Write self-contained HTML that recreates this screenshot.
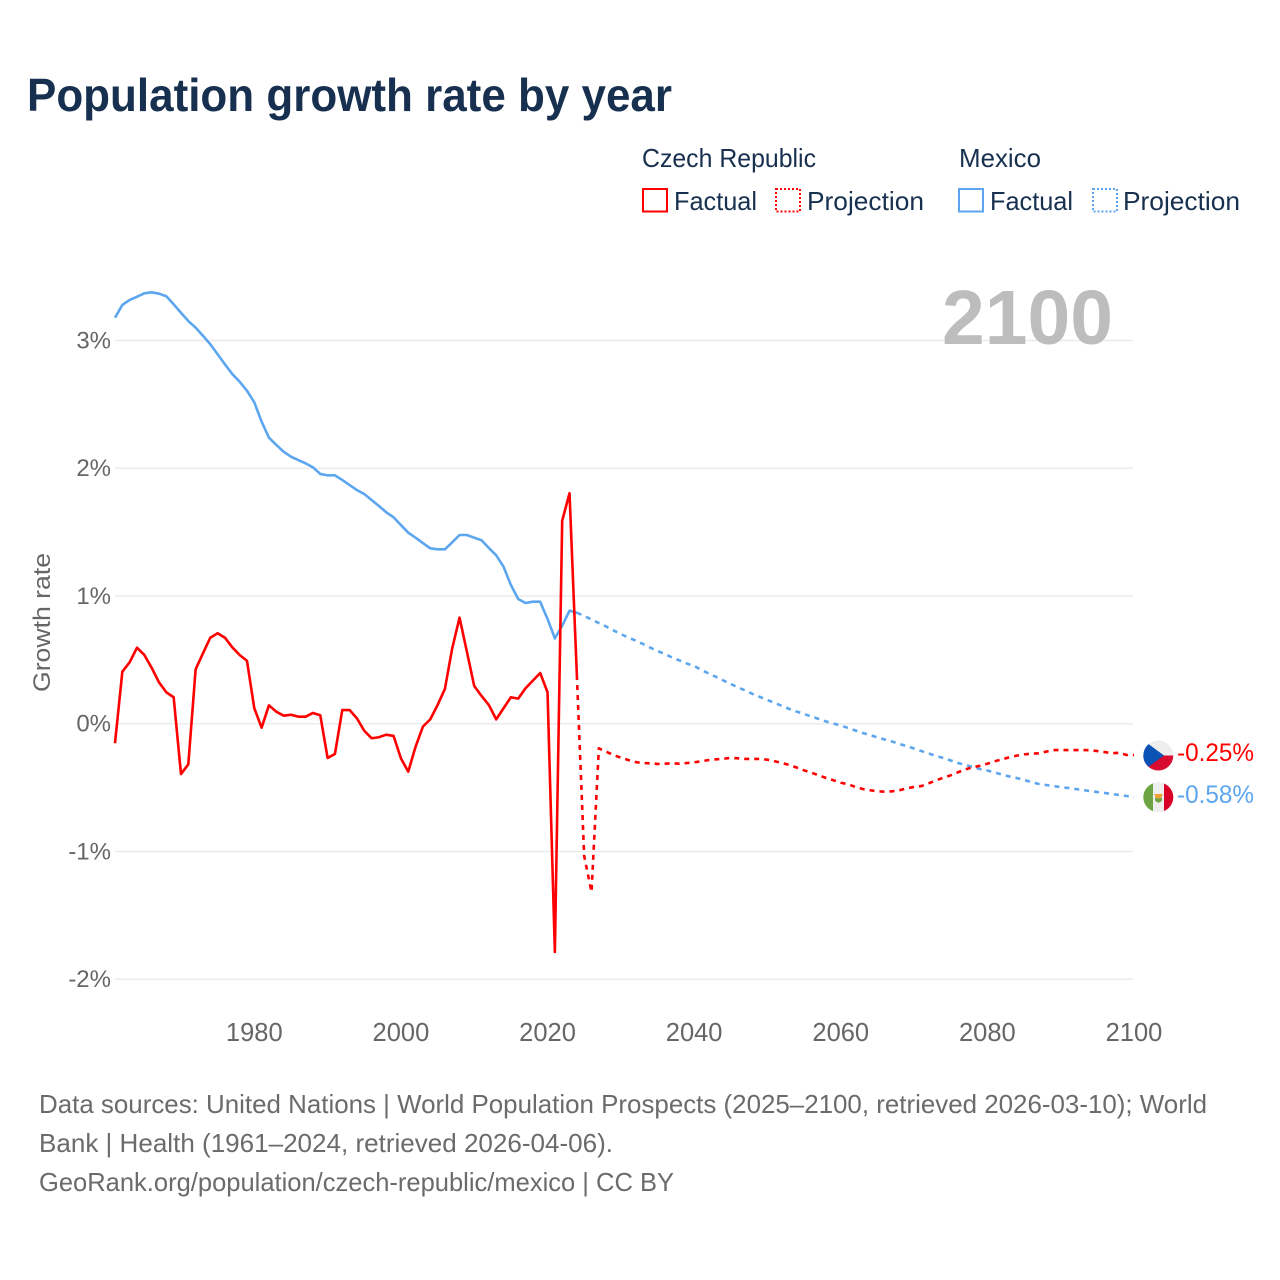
<!DOCTYPE html>
<html lang="en">
<head>
<meta charset="utf-8">
<title>Population growth rate by year</title>
<style>
html,body{margin:0;padding:0;background:#fff;}
svg{display:block;font-family:"Liberation Sans",sans-serif;}
</style>
</head>
<body>
<svg id="chart" xmlns="http://www.w3.org/2000/svg" width="1280" height="1280" viewBox="0 0 1280 1280">
  <defs>
    <clipPath id="cz-clip"><circle cx="1158.3" cy="755.5" r="15"/></clipPath>
    <clipPath id="mx-clip"><circle cx="1158.3" cy="797.3" r="15"/></clipPath>
  </defs>
  <rect width="1280" height="1280" fill="#fff"/>
  <text x="27" y="111" font-size="46" font-weight="700" fill="#18304f" textLength="645" lengthAdjust="spacingAndGlyphs">Population growth rate by year</text>

  <g font-size="26" fill="#18304f">
    <text x="642" y="167" textLength="174" lengthAdjust="spacingAndGlyphs">Czech Republic</text>
    <text x="959" y="167" textLength="82" lengthAdjust="spacingAndGlyphs">Mexico</text>
    <g>
      <rect x="643" y="189" width="24" height="22.5" fill="none" stroke="#ff0000" stroke-width="2"/>
      <text x="674" y="210" textLength="83" lengthAdjust="spacingAndGlyphs">Factual</text>
    </g>
    <g>
      <rect x="776" y="189" width="24" height="22.5" fill="none" stroke="#ff0000" stroke-width="2" stroke-dasharray="2 2"/>
      <text x="807" y="210" textLength="117" lengthAdjust="spacingAndGlyphs">Projection</text>
    </g>
    <g>
      <rect x="959" y="189" width="24" height="22.5" fill="none" stroke="#5ca6ef" stroke-width="2"/>
      <text x="990" y="210" textLength="83" lengthAdjust="spacingAndGlyphs">Factual</text>
    </g>
    <g>
      <rect x="1093" y="189" width="24" height="22.5" fill="none" stroke="#5ca6ef" stroke-width="2" stroke-dasharray="2 2"/>
      <text x="1123" y="210" textLength="117" lengthAdjust="spacingAndGlyphs">Projection</text>
    </g>
  </g>

  <g id="grid"></g>
  <g id="ylabels"></g>
  <g id="xlabels"></g>
  <text transform="translate(50,692) rotate(-90)" font-size="24" fill="#666" textLength="139" lengthAdjust="spacingAndGlyphs">Growth rate</text>
  <text x="942" y="344" font-size="77" font-weight="700" fill="#bdbdbd" textLength="171" lengthAdjust="spacingAndGlyphs">2100</text>
  <g id="series"></g>

  <g clip-path="url(#cz-clip)">
    <rect x="1143" y="740" width="31" height="15.5" fill="#eeeeee"/>
    <rect x="1143" y="755.5" width="31" height="16" fill="#d80b30"/>
    <polygon points="1143,740 1143.3,770.5 1164,755.5" fill="#0b52b5"/>
  </g>
  <g clip-path="url(#mx-clip)">
    <rect x="1143" y="782" width="10" height="31" fill="#6da544"/>
    <rect x="1153" y="782" width="11" height="31" fill="#eeeeee"/>
    <rect x="1164" y="782" width="10" height="31" fill="#d80027"/>
    <circle cx="1158.5" cy="799" r="3.6" fill="#6da544"/>
    <polygon points="1154,794 1163,794 1160.5,798.5 1156.5,798.5" fill="#f0a030"/>
  </g>
  <text x="1177" y="761" font-size="25" fill="#ff0000" textLength="77" lengthAdjust="spacingAndGlyphs">-0.25%</text>
  <text x="1177" y="803" font-size="25" fill="#5ca6ef" textLength="77" lengthAdjust="spacingAndGlyphs">-0.58%</text>

  <g font-size="26" fill="#6b6b6b">
    <text x="39" y="1113" textLength="1168" lengthAdjust="spacingAndGlyphs">Data sources: United Nations | World Population Prospects (2025–2100, retrieved 2026-03-10); World</text>
    <text x="39" y="1152" textLength="574" lengthAdjust="spacingAndGlyphs">Bank | Health (1961–2024, retrieved 2026-04-06).</text>
    <text x="39" y="1191" textLength="635" lengthAdjust="spacingAndGlyphs">GeoRank.org/population/czech-republic/mexico | CC BY</text>
  </g>
</svg>
<script>
const yTicks = [3, 2, 1, 0, -1, -2];
const xTicks = [1980, 2000, 2020, 2040, 2060, 2080, 2100];
const factualStartYear = 1961;
const projectionStartYear = 2024;

const mexicoFactual = [
  3.178,3.278,3.317,3.342,3.369,3.377,3.366,3.346,3.283,3.217,
  3.152,3.100,3.037,2.970,2.892,2.813,2.737,2.677,2.607,2.516,
  2.364,2.239,2.182,2.129,2.090,2.064,2.038,2.007,1.955,1.944,
  1.944,1.908,1.868,1.829,1.798,1.751,1.704,1.655,1.616,1.555,
  1.495,1.456,1.414,1.373,1.365,1.365,1.420,1.477,1.477,1.456,
  1.436,1.375,1.318,1.229,1.086,0.976,0.945,0.955,0.955,0.820,
  0.668,0.767,0.885,0.869
];
const mexicoProjection = [
  0.869,0.843,0.816,0.788,0.761,0.730,0.702,0.675,0.651,0.624,
  0.596,0.569,0.546,0.518,0.495,0.471,0.452,0.420,0.393,0.366,
  0.338,0.311,0.283,0.260,0.232,0.209,0.186,0.162,0.139,0.115,
  0.095,0.076,0.056,0.037,0.017,0.002,-0.014,-0.034,-0.053,-0.073,
  -0.088,-0.108,-0.124,-0.139,-0.159,-0.175,-0.194,-0.214,-0.233,-0.253,
  -0.268,-0.288,-0.308,-0.323,-0.339,-0.355,-0.366,-0.382,-0.398,-0.413,
  -0.425,-0.441,-0.456,-0.472,-0.480,-0.488,-0.496,-0.503,-0.511,-0.519,
  -0.527,-0.535,-0.542,-0.550,-0.558,-0.566,-0.576
];
const czechFactual = [
  -0.153,0.407,0.481,0.595,0.538,0.438,0.324,0.246,0.207,-0.394,
  -0.318,0.426,0.551,0.673,0.708,0.673,0.598,0.538,0.493,0.121,
  -0.031,0.144,0.094,0.063,0.070,0.055,0.055,0.084,0.066,-0.268,
  -0.237,0.107,0.107,0.042,-0.055,-0.114,-0.106,-0.086,-0.096,-0.271,
  -0.375,-0.180,-0.023,0.034,0.146,0.272,0.590,0.830,0.564,0.295,
  0.217,0.146,0.034,0.121,0.207,0.196,0.277,0.337,0.397,0.246,
  -1.787,1.589,1.804,0.381
];
const czechProjection = [
  0.381,-1.036,-1.317,-0.193,-0.219,-0.245,-0.266,-0.284,-0.300,-0.308,
  -0.310,-0.315,-0.313,-0.310,-0.313,-0.308,-0.302,-0.294,-0.284,-0.279,
  -0.274,-0.268,-0.271,-0.276,-0.276,-0.276,-0.282,-0.294,-0.308,-0.323,
  -0.344,-0.365,-0.384,-0.404,-0.425,-0.443,-0.462,-0.474,-0.495,-0.511,
  -0.521,-0.529,-0.532,-0.529,-0.521,-0.506,-0.495,-0.488,-0.467,-0.443,
  -0.423,-0.404,-0.380,-0.357,-0.341,-0.329,-0.313,-0.294,-0.279,-0.263,
  -0.250,-0.240,-0.235,-0.232,-0.219,-0.206,-0.206,-0.206,-0.206,-0.206,
  -0.208,-0.214,-0.222,-0.232,-0.227,-0.245,-0.245
];

const SVGNS = 'http://www.w3.org/2000/svg';
const blue = '#5ca6ef';
const red = '#ff0000';

function xScale(year) {
  return 115 + (year - 1961) * (1134 - 115) / (2100 - 1961);
}
function yScale(value) {
  return 723.7 - value * 127.75;
}
function pointsFor(values, startYear) {
  return values.map(function (v, i) {
    return xScale(startYear + i).toFixed(2) + ',' + yScale(v).toFixed(2);
  }).join(' ');
}

const gridGroup = document.getElementById('grid');
const yLabelGroup = document.getElementById('ylabels');
const xLabelGroup = document.getElementById('xlabels');
const seriesGroup = document.getElementById('series');

yTicks.forEach(function (t) {
  const line = document.createElementNS(SVGNS, 'line');
  
  
  line.setAttribute('x1', 115);
  line.setAttribute('x2', 1133);
  line.setAttribute('y1', yScale(t));
  line.setAttribute('y2', yScale(t));
  line.setAttribute('stroke', '#ebebeb');
  line.setAttribute('stroke-width', '1.5');
  gridGroup.appendChild(line);

  const label = document.createElementNS(SVGNS, 'text');
  
  
  label.setAttribute('x', 111);
  label.setAttribute('y', yScale(t) + 8);
  label.setAttribute('text-anchor', 'end');
  label.setAttribute('font-size', '24');
  label.setAttribute('fill', '#666');
  label.textContent = t + '%';
  yLabelGroup.appendChild(label);
});

xTicks.forEach(function (t) {
  const label = document.createElementNS(SVGNS, 'text');
  
  
  label.setAttribute('x', xScale(t));
  label.setAttribute('y', 1041);
  label.setAttribute('text-anchor', 'middle');
  label.setAttribute('font-size', '25.5');
  label.setAttribute('fill', '#666');
  label.textContent = t;
  xLabelGroup.appendChild(label);
});

function addLine(values, startYear, color, dashed, name) {
  const line = document.createElementNS(SVGNS, 'polyline');
  
  
  line.setAttribute('points', pointsFor(values, startYear));
  line.setAttribute('fill', 'none');
  line.setAttribute('stroke', color);
  line.setAttribute('stroke-width', '2.6');
  line.setAttribute('stroke-linejoin', 'round');
  if (dashed) {
    line.setAttribute('stroke-dasharray', '5 5');
  }
  seriesGroup.appendChild(line);
}

addLine(mexicoFactual, factualStartYear, blue, false, 'line-mexico-factual');
addLine(mexicoProjection, projectionStartYear, blue, true, 'line-mexico-projection');
addLine(czechFactual, factualStartYear, red, false, 'line-czech-factual');
addLine(czechProjection, projectionStartYear, red, true, 'line-czech-projection');
</script>
</body>
</html>
